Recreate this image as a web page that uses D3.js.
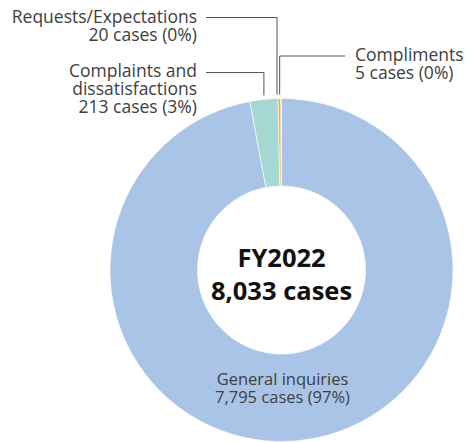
<!DOCTYPE html>
<html>
<head>
<meta charset="utf-8">
<script src="https://cdn.jsdelivr.net/npm/d3@7"></script>
<style>
  html, body { margin: 0; padding: 0; background: #fff; }
  svg text { font-family: "Open Sans", "Noto Sans", sans-serif; }
</style>
</head>
<body>
<svg id="chart" width="467" height="442"></svg>
<script>
// data
const categories = ["General inquiries", "Complaints and dissatisfactions", "Requests/Expectations", "Compliments"]
const counts = [7795, 213, 20, 5]
const percents = [97, 3, 0, 0]
const labelLines = [
  ["General inquiries"],
  ["Complaints and", "dissatisfactions"],
  ["Requests/Expectations"],
  ["Compliments"]
]
const centerTitle = "FY2022"
const totalCases = 8033

const colors = ["#aac4e7", "#a6d8d3", "#f2a93b", "#a9c83e"]

const width = 467
const height = 442
const cx = 281.5
const cy = 270
const outerR = 171.5
const innerR = 84

const svg = d3.select('#chart')
const fmt = d3.format(',')

const pie = d3.pie().sort(null).value(d => d)
const arcs = pie(counts)
const arc = d3.arc().innerRadius(innerR).outerRadius(outerR)

const g = svg.append('g').attr('transform', `translate(${cx}, ${cy})`)

g.selectAll('path')
  .data(arcs)
  .enter()
  .append('path')
  .attr('d', arc)
  .attr('fill', (d, i) => colors[i])
  .attr('stroke', '#fff')
  .attr('stroke-width', 0.6)

// center text
g.append('text')
  .attr('text-anchor', 'middle')
  .attr('y', -3)
  .attr('font-size', 25.5)
  .attr('font-weight', 700)
  .attr('fill', '#111')
  .text(centerTitle)
g.append('text')
  .attr('text-anchor', 'middle')
  .attr('y', 30)
  .attr('font-size', 25.5)
  .attr('font-weight', 700)
  .attr('fill', '#111')
  .text(fmt(totalCases) + ' cases')

// outside labels with leader lines (layout per slice)
const lineH = 18
const callouts = [
  null,
  {i: 1, nudge: 0, elbowY: 72.5, textX: 197, baseY: 77, anchor: 'end', lineFrom: 206},
  {i: 2, nudge: -2.5, elbowY: 17.5, textX: 197, baseY: 22.5, anchor: 'end', lineFrom: 206},
  {i: 3, nudge: -1.5, elbowY: 56, textX: 355, baseY: 61, anchor: 'start', lineFrom: 345}
]

callouts.forEach(c => {
  if (!c) return
  const a = arcs[c.i]
  const mid = (a.startAngle + a.endAngle) / 2
  const x = cx + Math.sin(mid) * outerR + c.nudge
  const yTop = cy - Math.cos(mid) * outerR - 4
  svg.append('path')
    .attr('d', d3.line()([[c.lineFrom, c.elbowY], [x, c.elbowY], [x, yTop]]))
    .attr('fill', 'none')
    .attr('stroke', '#555')
    .attr('stroke-width', 1)
  const lines = labelLines[c.i].concat([`${fmt(counts[c.i])} cases (${percents[c.i]}%)`])
  lines.forEach((s, k) => {
    svg.append('text')
      .attr('text-anchor', c.anchor)
      .attr('font-size', 17.5)
      .attr('fill', '#404040')
      .attr('x', c.textX)
      .attr('y', c.baseY + k * lineH)
      .text(s)
  })
})

// general inquiries label inside the ring
const genLines = labelLines[0].concat([`${fmt(counts[0])} cases (${percents[0]}%)`])
genLines.forEach((s, k) => {
  svg.append('text')
    .attr('text-anchor', 'middle')
    .attr('font-size', 16.5)
    .attr('fill', '#404040')
    .attr('x', cx + 1)
    .attr('y', 385 + k * 18)
    .text(s)
})
</script>
</body>
</html>
